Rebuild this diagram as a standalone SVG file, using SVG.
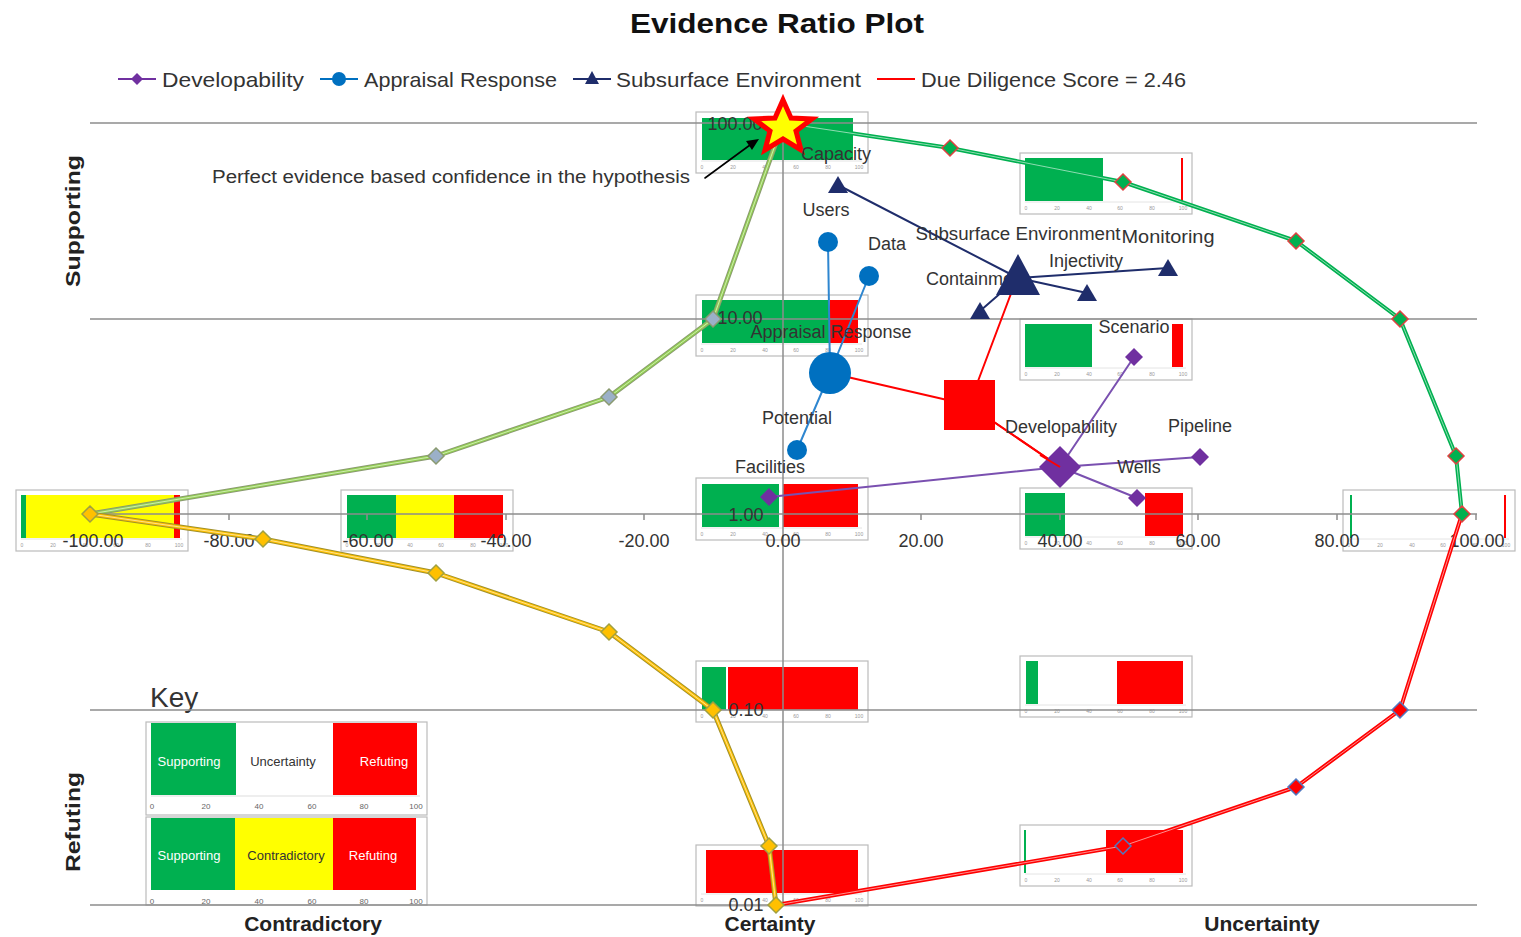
<svg xmlns="http://www.w3.org/2000/svg" xmlns:xlink="http://www.w3.org/1999/xlink" width="1521" height="937" viewBox="0 0 1521 937">
  <style>
    text { font-family: "Liberation Sans", Arial, sans-serif; fill: #333; }
    .title { font-size: 28px; font-weight: bold; fill: #111; }
    .leg { font-size: 21px; }
    .lbl { font-size: 18px; }
    .num { font-size: 18px; fill: #333; }
    .axt { font-size: 21px; font-weight: bold; fill: #222; }
    .tiny { font-size: 5px; fill: #999; text-anchor: middle; }
    .keyt { font-size: 13px; fill: #fff; text-anchor: middle; }
    .keyn { font-size: 8px; fill: #666; text-anchor: middle; }
    .frame { fill: #fff; stroke: #bbb; stroke-width: 1.2; }
    .g { fill: #00b050; }
    .r { fill: #ff0000; }
    .y { fill: #ffff00; }
    .grid { stroke: #8c8c8c; stroke-width: 1.5; fill: none; }
    .tick { stroke: #8c8c8c; stroke-width: 1.5; }
    .hl { stroke: #fff; stroke-width: 0.8; fill: none; opacity: 0.7; }
  </style>
  <defs>
    <symbol id="ax" overflow="visible">
      <line x1="5" y1="49" x2="166" y2="49" stroke="#ddd" stroke-width="0.8"/>
      <text class="tiny" x="6" y="57">0</text>
      <text class="tiny" x="37" y="57">20</text>
      <text class="tiny" x="69" y="57">40</text>
      <text class="tiny" x="100" y="57">60</text>
      <text class="tiny" x="132" y="57">80</text>
      <text class="tiny" x="163" y="57">100</text>
    </symbol>
    <path id="dm" d="M0,-8 L8,0 L0,8 L-8,0 Z"/>
  </defs>

  <rect width="1521" height="937" fill="#fff"/>

  <!-- title and legend -->
  <text class="title" x="777" y="33" text-anchor="middle" textLength="294" lengthAdjust="spacingAndGlyphs">Evidence Ratio Plot</text>
  <g id="legend">
    <line x1="118" y1="79" x2="156" y2="79" stroke="#7030a0" stroke-width="2"/>
    <path d="M137,73 L143,79 L137,85 L131,79 Z" fill="#7030a0"/>
    <text class="leg" x="162" y="87" textLength="142" lengthAdjust="spacingAndGlyphs">Developability</text>
    <line x1="320" y1="79" x2="358" y2="79" stroke="#0070c0" stroke-width="2"/>
    <circle cx="339" cy="79" r="7" fill="#0070c0"/>
    <text class="leg" x="364" y="87" textLength="193" lengthAdjust="spacingAndGlyphs">Appraisal Response</text>
    <line x1="573" y1="79" x2="611" y2="79" stroke="#1f2d6b" stroke-width="2"/>
    <path d="M592,71 L599,84 L585,84 Z" fill="#1f2d6b"/>
    <text class="leg" x="616" y="87" textLength="245" lengthAdjust="spacingAndGlyphs">Subsurface Environment</text>
    <line x1="877" y1="79" x2="915" y2="79" stroke="#ff0000" stroke-width="2"/>
    <text class="leg" x="921" y="87" textLength="265" lengthAdjust="spacingAndGlyphs">Due Diligence Score = 2.46</text>
  </g>

  <!-- inset bar charts -->
  <g id="inset-100" transform="translate(696,112)">
    <rect class="frame" width="172" height="61"/>
    <rect class="g" x="6" y="6" width="151" height="42"/>
    <use href="#ax"/>
  </g>
  <g id="inset-upper-right" transform="translate(1020,153)">
    <rect class="frame" width="172" height="61"/>
    <rect class="g" x="5" y="5" width="78" height="43"/>
    <rect class="r" x="161" y="5" width="2" height="43"/>
    <use href="#ax"/>
  </g>
  <g id="inset-left" transform="translate(16,490)">
    <rect class="frame" width="172" height="61"/>
    <rect class="g" x="5" y="5" width="5" height="43"/>
    <rect class="y" x="10" y="5" width="148" height="43"/>
    <rect class="r" x="158" y="5" width="6" height="43"/>
    <use href="#ax"/>
  </g>
  <g id="inset-contradictory" transform="translate(341,490)">
    <rect class="frame" width="172" height="61"/>
    <rect class="g" x="6" y="5" width="49" height="43"/>
    <rect class="y" x="55" y="5" width="58" height="43"/>
    <rect class="r" x="113" y="5" width="49" height="43"/>
    <use href="#ax"/>
  </g>
  <g id="inset-10" transform="translate(696,295)">
    <rect class="frame" width="172" height="61"/>
    <rect class="g" x="6" y="5" width="127" height="43"/>
    <rect class="r" x="134" y="5" width="28" height="43"/>
    <use href="#ax"/>
  </g>
  <g id="inset-scenario" transform="translate(1020,319)">
    <rect class="frame" width="172" height="61"/>
    <rect class="g" x="5" y="5" width="67" height="43"/>
    <rect class="r" x="152" y="5" width="11" height="43"/>
    <use href="#ax"/>
  </g>
  <g id="inset-1" transform="translate(696,478)">
    <rect class="frame" width="172" height="62"/>
    <rect class="g" x="6" y="6" width="77" height="43"/>
    <rect class="r" x="87" y="6" width="75" height="43"/>
    <use href="#ax" y="1"/>
  </g>
  <g id="inset-40" transform="translate(1020,488)">
    <rect class="frame" width="172" height="61"/>
    <rect class="g" x="5" y="5" width="40" height="43"/>
    <rect class="r" x="125" y="5" width="38" height="43"/>
    <use href="#ax"/>
  </g>
  <g id="inset-right" transform="translate(1343,490)">
    <rect class="frame" width="172" height="61"/>
    <rect class="g" x="7" y="5" width="2" height="43"/>
    <rect class="r" x="161" y="5" width="2" height="43"/>
    <use href="#ax"/>
  </g>
  <g id="inset-0.1" transform="translate(696,661)">
    <rect class="frame" width="172" height="61"/>
    <rect class="g" x="6" y="6" width="24" height="43"/>
    <rect class="r" x="32" y="6" width="130" height="43"/>
    <use href="#ax"/>
  </g>
  <g id="inset-lower-right" transform="translate(1020,656)">
    <rect class="frame" width="172" height="61"/>
    <rect class="g" x="6" y="5" width="12" height="43"/>
    <rect class="r" x="97" y="5" width="66" height="43"/>
    <use href="#ax"/>
  </g>
  <g id="inset-0.01" transform="translate(696,845)">
    <rect class="frame" width="172" height="61"/>
    <rect class="r" x="10" y="5" width="152" height="43"/>
    <use href="#ax"/>
  </g>
  <g id="inset-bottom-right" transform="translate(1020,825)">
    <rect class="frame" width="172" height="61"/>
    <rect class="g" x="4" y="5" width="2" height="43"/>
    <rect class="r" x="86" y="5" width="77" height="43"/>
    <use href="#ax"/>
  </g>

  <!-- key -->
  <g id="key">
    <text x="150" y="707" font-size="28" fill="#111">Key</text>
    <rect class="frame" x="146" y="722" width="281" height="93"/>
    <rect class="g" x="151" y="723" width="85" height="72"/>
    <rect class="r" x="333" y="723" width="84" height="72"/>
    <line x1="151" y1="796" x2="420" y2="796" stroke="#ddd" stroke-width="1"/>
    <text class="keyt" x="189" y="766">Supporting</text>
    <text class="keyt" x="283" y="766" style="fill:#333">Uncertainty</text>
    <text class="keyt" x="384" y="766">Refuting</text>
    <text class="keyn" x="152" y="809">0</text>
    <text class="keyn" x="206" y="809">20</text>
    <text class="keyn" x="259" y="809">40</text>
    <text class="keyn" x="312" y="809">60</text>
    <text class="keyn" x="364" y="809">80</text>
    <text class="keyn" x="416" y="809">100</text>
    <rect class="frame" x="146" y="817" width="281" height="88"/>
    <rect class="g" x="151" y="818" width="84" height="72"/>
    <rect class="y" x="235" y="818" width="98" height="72"/>
    <rect class="r" x="333" y="818" width="83" height="72"/>
    <text class="keyt" x="189" y="860">Supporting</text>
    <text class="keyt" x="286" y="860" style="fill:#333">Contradictory</text>
    <text class="keyt" x="373" y="860">Refuting</text>
    <text class="keyn" x="152" y="904">0</text>
    <text class="keyn" x="206" y="904">20</text>
    <text class="keyn" x="259" y="904">40</text>
    <text class="keyn" x="312" y="904">60</text>
    <text class="keyn" x="364" y="904">80</text>
    <text class="keyn" x="416" y="904">100</text>
  </g>

  <!-- plot grid and axes -->
  <g id="grid">
    <line class="grid" x1="90" y1="123" x2="1477" y2="123"/>
    <line class="grid" x1="90" y1="319" x2="1477" y2="319"/>
    <line class="grid" x1="90" y1="514" x2="1477" y2="514"/>
    <line class="grid" x1="90" y1="710" x2="1477" y2="710"/>
    <line class="grid" x1="90" y1="905" x2="1477" y2="905"/>
    <line class="grid" x1="783" y1="112" x2="783" y2="905"/>
    <g class="tick">
      <line x1="229" y1="514" x2="229" y2="520"/>
      <line x1="367" y1="514" x2="367" y2="520"/>
      <line x1="506" y1="514" x2="506" y2="520"/>
      <line x1="644" y1="514" x2="644" y2="520"/>
      <line x1="921" y1="514" x2="921" y2="520"/>
      <line x1="1060" y1="514" x2="1060" y2="520"/>
      <line x1="1198" y1="514" x2="1198" y2="520"/>
      <line x1="1337" y1="514" x2="1337" y2="520"/>
      <line x1="1476" y1="514" x2="1476" y2="520"/>
    </g>
    <g class="num" text-anchor="middle">
      <text x="93" y="547">-100.00</text>
      <text x="229" y="547">-80.00</text>
      <text x="368" y="547">-60.00</text>
      <text x="506" y="547">-40.00</text>
      <text x="644" y="547">-20.00</text>
      <text x="783" y="547">0.00</text>
      <text x="921" y="547">20.00</text>
      <text x="1060" y="547">40.00</text>
      <text x="1198" y="547">60.00</text>
      <text x="1337" y="547">80.00</text>
      <text x="1477" y="547">100.00</text>
    </g>
    <g class="num" text-anchor="middle">
      <text x="735" y="130">100.00</text>
      <text x="740" y="324">10.00</text>
      <text x="746" y="521">1.00</text>
      <text x="746" y="716">0.10</text>
      <text x="746" y="911">0.01</text>
    </g>
  </g>

  <!-- axis titles -->
  <text class="axt" transform="translate(80,221) rotate(-90)" text-anchor="middle" font-size="23" textLength="132" lengthAdjust="spacingAndGlyphs">Supporting</text>
  <text class="axt" transform="translate(80,822) rotate(-90)" text-anchor="middle" font-size="23" textLength="100" lengthAdjust="spacingAndGlyphs">Refuting</text>
  <text class="axt" x="313" y="931" text-anchor="middle">Contradictory</text>
  <text class="axt" x="770" y="931" text-anchor="middle">Certainty</text>
  <text class="axt" x="1262" y="931" text-anchor="middle">Uncertainty</text>

  <!-- connectors -->
  <g id="connectors" fill="none" stroke-linejoin="round" stroke-linecap="round">
    <!-- boundary curves -->
    <polyline points="90,514 436,456 609,397 713,319 783,123" stroke="#8a9a70" stroke-width="5"/>
    <polyline points="90,514 436,456 609,397 713,319 783,123" stroke="#92d050" stroke-width="3"/>
    <polyline class="hl" points="90,514 436,456 609,397 713,319 783,123"/>
    <polyline points="783,123 950,148 1123,182 1296,241 1400,319 1456,456 1462,514" stroke="#00b050" stroke-width="4"/>
    <polyline class="hl" points="783,123 950,148 1123,182 1296,241 1400,319 1456,456 1462,514"/>
    <polyline points="90,514 263,539 436,573 609,632 713,710 769,846 776,905" stroke="#a0902a" stroke-width="5"/>
    <polyline points="90,514 263,539 436,573 609,632 713,710 769,846 776,905" stroke="#ffc000" stroke-width="3"/>
    <polyline class="hl" points="90,514 263,539 436,573 609,632 713,710 769,846 776,905"/>
    <polyline points="776,905 1123,846 1296,787 1400,710 1462,514" stroke="#ff0000" stroke-width="4"/>
    <polyline class="hl" points="776,905 1123,846 1296,787 1400,710 1462,514"/>
    <!-- arrow to the perfect-evidence star -->
    <line x1="705" y1="178" x2="750" y2="145" stroke="#000" stroke-width="1.6"/>
    <path d="M759,139 L746,141 L752,150 Z" fill="#000"/>
    <!-- due diligence links -->
    <g stroke="#ff0000" stroke-width="2">
      <line x1="830" y1="373" x2="969" y2="405"/>
      <line x1="969" y1="405" x2="1018" y2="275"/>
      <line x1="969" y1="405" x2="1060" y2="467"/>
    </g>
    <!-- subsurface environment links -->
    <g stroke="#1f2d6b" stroke-width="2">
      <line x1="1018" y1="278" x2="838" y2="185"/>
      <line x1="1018" y1="278" x2="1168" y2="268"/>
      <line x1="1018" y1="278" x2="1087" y2="293"/>
      <line x1="1018" y1="278" x2="980" y2="311"/>
    </g>
    <!-- appraisal response links -->
    <g stroke="#2e86d0" stroke-width="2">
      <line x1="830" y1="373" x2="828" y2="242"/>
      <line x1="830" y1="373" x2="869" y2="276"/>
      <line x1="830" y1="373" x2="797" y2="450"/>
    </g>
    <!-- developability links -->
    <g stroke="#7a50b0" stroke-width="2">
      <line x1="1060" y1="467" x2="1134" y2="357"/>
      <line x1="1060" y1="467" x2="1200" y2="457"/>
      <line x1="1060" y1="467" x2="1137" y2="498"/>
      <line x1="1060" y1="467" x2="769" y2="497"/>
    </g>
  </g>

  <!-- curve markers -->
  <g id="markers-lower-left" fill="#9bb0c8" stroke="#8a9a70" stroke-width="1.5">
    <use href="#dm" x="436" y="456"/>
    <use href="#dm" x="609" y="397"/>
    <use href="#dm" x="713" y="319"/>
  </g>
  <g id="markers-upper-right" fill="#00b050" stroke="#e04040" stroke-width="1.5">
    <use href="#dm" x="950" y="148"/>
    <use href="#dm" x="1123" y="182"/>
    <use href="#dm" x="1296" y="241"/>
    <use href="#dm" x="1400" y="319"/>
    <use href="#dm" x="1456" y="456"/>
    <use href="#dm" x="1462" y="514"/>
  </g>
  <g id="markers-lower" fill="#ffc000" stroke="#a0a040" stroke-width="1.5">
    <use href="#dm" x="90" y="514"/>
    <use href="#dm" x="263" y="539"/>
    <use href="#dm" x="436" y="573"/>
    <use href="#dm" x="609" y="632"/>
    <use href="#dm" x="713" y="710"/>
    <use href="#dm" x="769" y="846"/>
    <use href="#dm" x="776" y="905"/>
  </g>
  <g id="markers-lower-right" fill="#ff0000" stroke="#5078c0" stroke-width="1.5">
    <use href="#dm" x="1123" y="846"/>
    <use href="#dm" x="1296" y="787"/>
    <use href="#dm" x="1400" y="710"/>
  </g>

  <!-- star: perfect evidence -->
  <g id="star">
    <path d="M783,100 L791,118 L812,119 L796,131 L801,150 L783,139 L765,150 L770,131 L754,119 L775,118 Z" fill="#ffff00" stroke="#ff0000" stroke-width="5" stroke-linejoin="miter"/>
  </g>
  <text class="lbl" x="212" y="183" textLength="478" lengthAdjust="spacingAndGlyphs" fill="#111">Perfect evidence based confidence in the hypothesis</text>
  <text class="lbl" x="801" y="160">Capacity</text>

  <!-- Subsurface Environment -->
  <g id="subsurface" fill="#1f2d6b">
    <text class="lbl" x="826" y="216" text-anchor="middle">Users</text>
    <text class="lbl" x="1018" y="240" text-anchor="middle" textLength="205" lengthAdjust="spacingAndGlyphs">Subsurface Environment</text>
    <text class="lbl" x="1168" y="243" text-anchor="middle" textLength="93" lengthAdjust="spacingAndGlyphs">Monitoring</text>
    <text class="lbl" x="1086" y="267" text-anchor="middle">Injectivity</text>
    <text class="lbl" x="926" y="285">Containment</text>
    <path d="M838,176 L848,193 L828,193 Z"/>
    <path d="M1168,259 L1178,276 L1158,276 Z"/>
    <path d="M1087,284 L1097,301 L1077,301 Z"/>
    <path d="M980,302 L990,319 L970,319 Z"/>
    <path d="M1018,254 L1040,295 L996,295 Z"/>
  </g>

  <!-- Appraisal Response -->
  <g id="appraisal" fill="#0070c0">
    <text class="lbl" x="868" y="250">Data</text>
    <text class="lbl" x="831" y="338" text-anchor="middle">Appraisal Response</text>
    <text class="lbl" x="797" y="424" text-anchor="middle">Potential</text>
    <text class="lbl" x="770" y="473" text-anchor="middle">Facilities</text>
    <circle cx="828" cy="242" r="10"/>
    <circle cx="869" cy="276" r="10"/>
    <circle cx="797" cy="450" r="10"/>
    <circle cx="830" cy="373" r="21"/>
  </g>

  <!-- Due Diligence Score -->
  <g id="due-diligence">
    <rect x="944" y="380" width="51" height="50" fill="#ff0000"/>
    <line x1="969" y1="405" x2="1060" y2="467" stroke="#ff0000" stroke-width="2"/>
  </g>

  <!-- Developability -->
  <g id="developability" fill="#7030a0">
    <text class="lbl" x="1061" y="433" text-anchor="middle">Developability</text>
    <text class="lbl" x="1200" y="432" text-anchor="middle">Pipeline</text>
    <text class="lbl" x="1139" y="473" text-anchor="middle">Wells</text>
    <text class="lbl" x="1134" y="333" text-anchor="middle">Scenario</text>
    <path d="M1134,348 L1143,357 L1134,366 L1125,357 Z"/>
    <path d="M1200,448 L1209,457 L1200,466 L1191,457 Z"/>
    <path d="M1137,489 L1146,498 L1137,507 L1128,498 Z"/>
    <path d="M769,488 L778,497 L769,506 L760,497 Z"/>
    <path d="M1060,446 L1081,467 L1060,488 L1039,467 Z"/>
    <line x1="1040" y1="455" x2="1060" y2="467" stroke="#ff0000" stroke-width="2"/>
  </g>
</svg>
